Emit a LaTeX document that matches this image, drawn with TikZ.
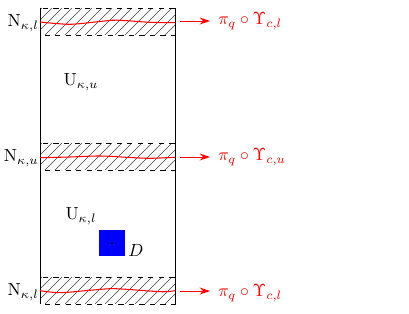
\documentclass[tikz,border=0pt]{standalone}
\usetikzlibrary{arrows.meta}
\begin{document}
\begin{tikzpicture}[x=0.57pt,y=-0.57pt,
  bandbox/.style={draw, dashed, line width=0.5pt},
  hatchline/.style={line width=0.3pt, black!75},
  wall/.style={line width=0.55pt},
  wave/.style={red, line width=0.6pt},
  maparrow/.style={red, line width=0.55pt, -{Stealth[length=6pt,width=4pt,inset=2pt]}, shorten >=4.5pt},
  maplabel/.style={red, anchor=west, inner sep=0pt},
  sidelabel/.style={anchor=base east, inner sep=0pt},
]
\useasboundingbox (0,0) rectangle (409,314);

% hatched bands
\foreach \t/\b in {8/35, 143/170, 277/304} {
  \begin{scope}
    \clip (40,\t) rectangle (175,\b);
    \foreach \x in {5,15,...,185} \draw[hatchline] (\x,\b) -- ++(27,-27);
  \end{scope}
  \draw[bandbox] (40,\t) rectangle (175,\b);
}

% walls
\draw[wall] (40,8) -- (40,304);
\draw[wall] (175,8) -- (175,304);

% red wavy curves
\draw[wave] plot[smooth] coordinates {(40,22) (70,24.3) (100,21.5) (117,20.2) (150,22.3) (175,22.7)};
\draw[wave] plot[smooth] coordinates {(40,157.7) (70,157) (100,156) (130,157.5) (150,158.3) (175,157.3)};
\draw[wave] plot[smooth] coordinates {(40,290.7) (60,292.7) (90,290.3) (115,288.7) (160,291.7) (175,290.7)};

% side labels
\node[sidelabel] (n1) at (39,27) {$\mathrm{N}_{\kappa,l}$};
\node[sidelabel] (n2) at (39,162) {$\mathrm{N}_{\kappa,u}$};
\node[sidelabel] (n3) at (39,296) {$\mathrm{N}_{\kappa,l}$};

% region labels
\node (uu) at (81,82) {$\mathrm{U}_{\kappa,u}$};
\node (ul) at (81,216) {$\mathrm{U}_{\kappa,l}$};

% domain D
\node[fill=blue, minimum size=26*0.57pt, inner sep=0pt] (sq) at (112,243.5) {};
\fill (sq.center) circle (0.6pt);
\node (dl) at (136,251) {$D$};

% arrows and maps
\coordinate (a1) at (180,21);
\coordinate (a2) at (180,157);
\coordinate (a3) at (180,291);
\node[maplabel] (l1) at (218,21) {$\pi_q\circ\Upsilon_{c,l}$};
\node[maplabel] (l2) at (218,157) {$\pi_q\circ\Upsilon_{c,u}$};
\node[maplabel] (l3) at (218,293) {$\pi_q\circ\Upsilon_{c,l}$};
\draw[maparrow] (a1) -- (l1.west |- a1);
\draw[maparrow] (a2) -- (l2.west |- a2);
\draw[maparrow] (a3) -- (l3.west |- a3);
\end{tikzpicture}
\end{document}
